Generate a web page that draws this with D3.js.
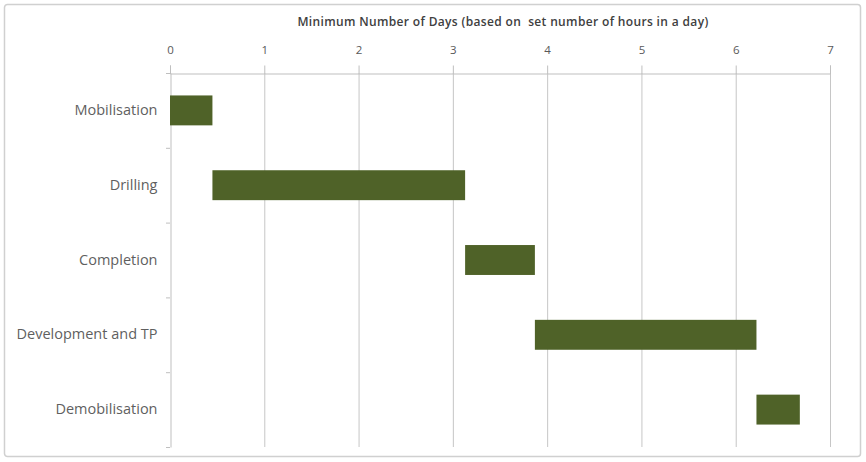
<!DOCTYPE html>
<html><head><meta charset="utf-8">
<script src="https://cdn.jsdelivr.net/npm/d3@7"></script>
<style>
html,body{margin:0;padding:0;background:#fff;}
svg{display:block;}
</style></head>
<body>
<svg id="chart" width="866" height="462"></svg>
<script>
const categories = ["Mobilisation","Drilling","Completion","Development and TP","Demobilisation"];
const startDays = [0, 0.45, 3.13, 3.87, 6.22];
const durationDays = [0.45, 2.68, 0.74, 2.35, 0.46];
const xTicks = [0,1,2,3,4,5,6,7];
const axisTitle = "Minimum Number of Days (based on  set number of hours in a day)";

const svg = d3.select("#chart");
const W = 866, H = 462;
const m = {left:170, right:36, top:73, bottom:15};
const font = "'Open Sans', Lato, sans-serif";

svg.append("rect").attr("x",4.5).attr("y",4.5).attr("width",W-10).attr("height",H-10)
  .attr("rx",3).attr("fill","#fff").attr("stroke","#d0d0d0").attr("stroke-width",1.5);

const x = d3.scaleLinear().domain([0,7]).range([m.left, W-m.right]);
const y = d3.scaleBand().domain(categories).range([m.top, H-m.bottom]).paddingInner(0.6).paddingOuter(0.3);
const yb = d3.scaleBand().domain(categories).range([m.top, H-m.bottom]);

// gridlines
svg.append("g").selectAll("line").data(xTicks.slice(1)).join("line")
  .attr("x1",d=>x(d)+0.5).attr("x2",d=>x(d)+0.5)
  .attr("y1",m.top).attr("y2",H-m.bottom)
  .attr("stroke","#c6c6c6").attr("stroke-width",1);

// top axis
const xAxis = d3.axisTop(x).tickValues(xTicks).tickFormat(d3.format("d")).tickSize(8).tickPadding(12);
const gx = svg.append("g").attr("transform",`translate(0,${m.top+0.5})`).call(xAxis);
gx.select(".domain").attr("stroke","#bfbfbf");
gx.selectAll(".tick line").attr("stroke","#bfbfbf");
gx.selectAll(".tick text").attr("fill","#595959").attr("font-family",font).attr("font-size",11.5);

// left axis
const yAxis = d3.axisLeft(yb).tickSize(0).tickPadding(13);
const gy = svg.append("g").attr("transform",`translate(${m.left+0.5},0)`).call(yAxis);
gy.select(".domain").attr("stroke","#bfbfbf");
gy.selectAll(".tick text").attr("fill","#5f5f5f").attr("font-family",font).attr("font-size",14.5);
// boundary ticks
svg.append("g").selectAll("line").data(categories.map((c,i)=>i).concat([categories.length]))
  .join("line")
  .attr("x1",m.left-4).attr("x2",m.left)
  .attr("y1",i=> (i<categories.length? yb(categories[i]) : H-m.bottom)+0.5)
  .attr("y2",i=> (i<categories.length? yb(categories[i]) : H-m.bottom)+0.5)
  .attr("stroke","#bfbfbf");

// bars
svg.append("g").selectAll("rect").data(categories).join("rect")
  .attr("x",(d,i)=>x(startDays[i]))
  .attr("width",(d,i)=>x(startDays[i]+durationDays[i])-x(startDays[i]))
  .attr("y",d=>y(d)).attr("height",y.bandwidth())
  .attr("fill","#4f6228");

// title
svg.append("text").attr("x",(x(0)+x(7))/2+3).attr("y",26).attr("text-anchor","middle")
  .attr("font-family",font).attr("font-weight","600").attr("font-size",12).attr("letter-spacing",0.35)
  .attr("fill","#404040").style("white-space","pre").text(axisTitle);
</script>
</body></html>
